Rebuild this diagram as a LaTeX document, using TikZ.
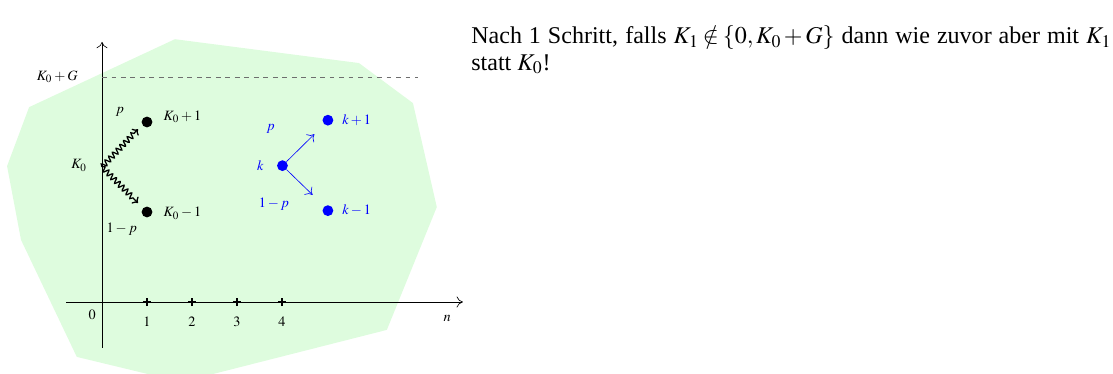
\documentclass[tikz,border=0pt]{standalone}
\usepackage{mathptmx}
\usepackage{fontspec}
\setmainfont{Liberation Serif}
\usetikzlibrary{arrows.meta,positioning,decorations.pathmorphing}
\definecolor{palegreen}{RGB}{222,252,222}
\definecolor{dashgray}{HTML}{6E6E6E}
\definecolor{walkblue}{RGB}{0,0,255}
\tikzset{
  statedot/.style={
    circle, fill=#1, inner sep=0pt, minimum size=0.24cm
  },
  statedot/.default=black,
  lbl/.style={
    font=\small, text=#1, inner sep=1pt
  },
  lbl/.default=black,
  axisline/.style={
    -{To[length=4pt,width=7pt]}, thin
  },
  boundline/.style={
    dashed, thin, color=dashgray
  },
  tickmark/.style={
    thick
  },
  % ── snake arrows for the first step ──
  stepsnake/.style={
    -{To[length=3pt,width=6pt]}, thick, decorate,
    decoration={snake, amplitude=1.7pt, segment length=3.4pt, post length=3pt}
  },
  steparrow/.style={
    -{To[length=4pt,width=7pt]}, thin, color=walkblue
  },
}
\begin{document}
\begin{tikzpicture}[x=1cm,y=1cm]

  \useasboundingbox (-2.267,-1.6) rectangle (22.467,6.711);

  % green region behind the walk
  \fill[palegreen] (1.62,5.84) -- (5.71,5.31) -- (6.91,4.42) -- (7.44,2.11)
    -- (6.33,-0.62) -- (1.76,-1.78) -- (-0.56,-1.22) -- (-1.8,1.38)
    -- (-2.11,3.02) -- (-1.62,4.33) -- cycle;

  % axes
  \coordinate (xs) at (-0.8,0);
  \coordinate (xe) at (8.02,0);
  \coordinate (ys) at (0,-1.02);
  \coordinate (ye) at (0,5.78);
  \draw[axisline] (xs) -- (xe);
  \draw[axisline] (ys) -- (ye);
  \node[lbl] (zero) at (-0.22,-0.29) {$0$};
  \node[lbl] (nlab) at (7.67,-0.36) {$n$};
  \foreach \i in {1,...,4} {
    \draw[tickmark] (\i,-0.09) -- (\i,0.09) (\i-0.09,0) -- (\i+0.09,0);
    \node[lbl] (t\i) at (\i,-0.44) {$\i$};
  }

  % upper boundary K_0+G
  \coordinate (g0) at (0,5);
  \coordinate (g1) at (7.02,5);
  \draw[boundline] (g0) -- (g1);
  \node[lbl, left=0.5cm of g0] (glab) {$K_0+G$};

  % first step from K_0
  \coordinate (k0) at (0,3);
  \node[lbl] (k0lab) at (-0.51,3.03) {$K_0$};
  \node[statedot] (up1) at (1,4) {};
  \node[statedot] (dn1) at (1,2) {};
  \node[lbl, right=0.2cm of up1, yshift=0.12cm] (up1lab) {$K_0+1$};
  \node[lbl, right=0.2cm of dn1, yshift=-0.03cm] (dn1lab) {$K_0-1$};
  \node[lbl] (plab) at (0.4,4.23) {$p$};
  \node[lbl] (qlab) at (0.44,1.62) {$1-p$};
  \coordinate (upend) at (0.8,3.84);
  \coordinate (dnend) at (0.8,2.2);
  \draw[stepsnake] (k0) -- (upend);
  \draw[stepsnake] (k0) -- (dnend);

  % general step from k
  \node[statedot=walkblue] (k) at (4.01,3.03) {};
  \node[statedot=walkblue] (kp) at (5.02,4.04) {};
  \node[statedot=walkblue] (km) at (5.02,2.03) {};
  \node[lbl=walkblue, left=0.25cm of k] (klab) {$k$};
  \node[lbl=walkblue, right=0.15cm of kp] (kplab) {$k+1$};
  \node[lbl=walkblue, right=0.15cm of km] (kmlab) {$k-1$};
  \node[lbl=walkblue] (kpp) at (3.75,3.84) {$p$};
  \node[lbl=walkblue] (kqq) at (3.82,2.18) {$1-p$};
  \coordinate (kupend) at (4.72,3.73);
  \coordinate (kdnend) at (4.68,2.38);
  \draw[steparrow] (k) -- (kupend);
  \draw[steparrow] (k) -- (kdnend);

  % remark next to the picture
  \node[anchor=north west, inner sep=0pt, align=justify, text width=14.22cm,
        font=\fontsize{15.2}{16.5}\selectfont] (note) at (8.2,6.14)
    {\medmuskip=2mu\thickmuskip=3mu
     Nach 1 Schritt, falls $K_1\notin\{0,K_0+G\}$ dann wie zuvor aber mit $K_1$\linebreak
     statt $K_0$!};

\end{tikzpicture}
\end{document}
